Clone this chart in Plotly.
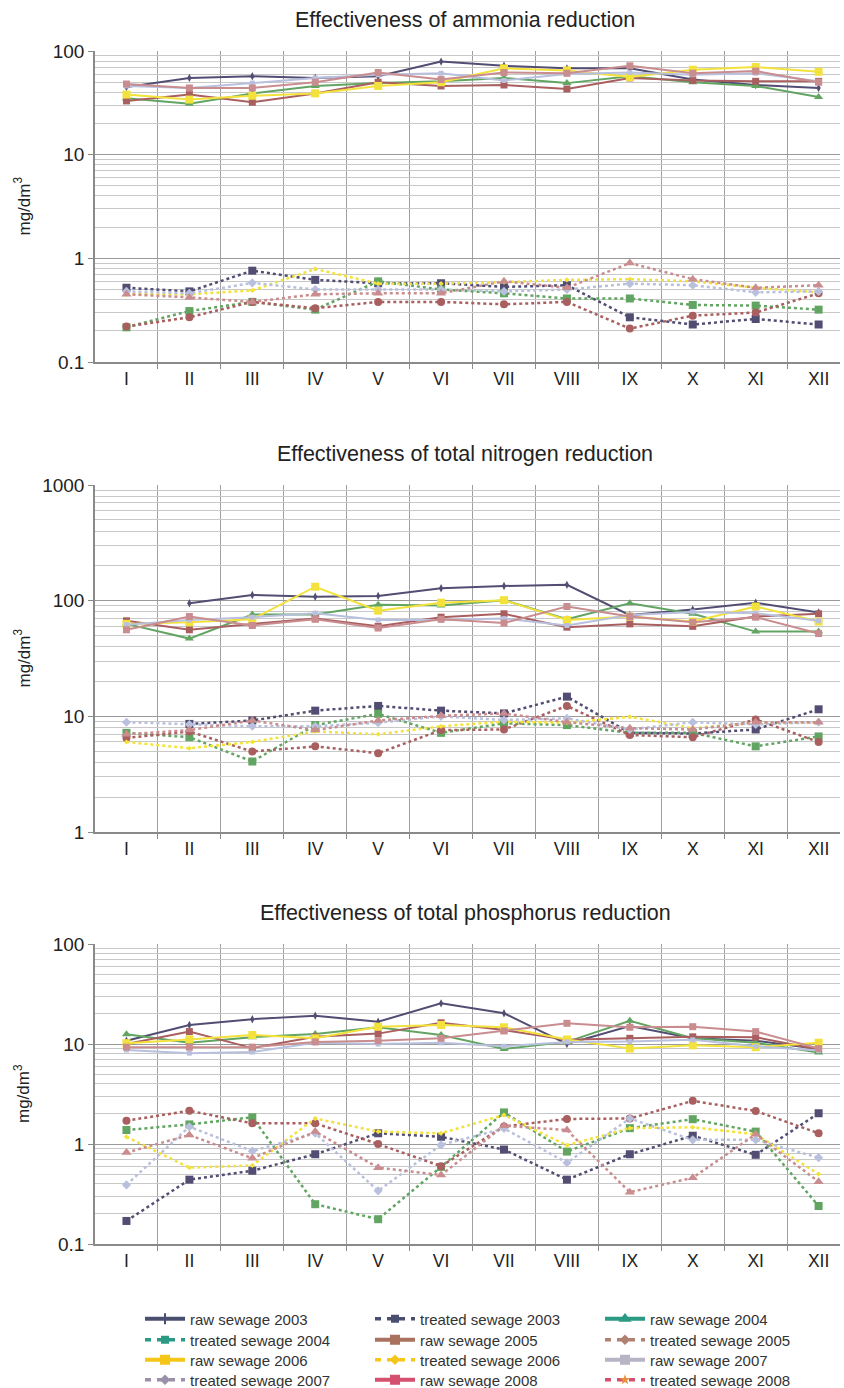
import plotly.graph_objects as go

months = ["I", "II", "III", "IV", "V", "VI", "VII", "VIII", "IX", "X", "XI", "XII"]
years = [2003, 2004, 2005, 2006, 2007, 2008]

# ---------------- Ammonia (mg/dm3) ----------------
amm_raw_2003 = [45, 55, 57, 55, 57, 79, 72, 68, 68, 53, 47, 44]
amm_raw_2004 = [35, 31, 39, 46, 49, 51, 55, 49, 57, 50, 46, 36]
amm_raw_2005 = [33, 38, 32, 39, 50, 46, 47, 43, 55, 52, 51, 51]
amm_raw_2006 = [38, 34, 37, 39, 46, 50, 68, 65, 56, 66, 70, 63]
amm_raw_2007 = [46, 44, 49, 55, 59, 61, 52, 60, 62, 59, 61, 51]
amm_raw_2008 = [48, 44, 44, 50, 62, 53, 62, 61, 72, 61, 64, 50]
amm_tr_2003 = [0.52, 0.48, 0.76, 0.62, 0.575, 0.575, 0.53, 0.55, 0.27, 0.23, 0.26, 0.23]
amm_tr_2004 = [0.216, 0.31, 0.38, 0.32, 0.6, 0.5, 0.46, 0.41, 0.41, 0.355, 0.35, 0.32]
amm_tr_2005 = [0.22, 0.27, 0.38, 0.33, 0.38, 0.38, 0.36, 0.38, 0.21, 0.28, 0.3, 0.46]
amm_tr_2006 = [0.45, 0.45, 0.49, 0.79, 0.57, 0.57, 0.59, 0.62, 0.63, 0.6, 0.52, 0.47]
amm_tr_2007 = [0.48, 0.46, 0.58, 0.5, 0.5, 0.5, 0.48, 0.5, 0.57, 0.55, 0.47, 0.48]
amm_tr_2008 = [0.45, 0.42, 0.38, 0.45, 0.46, 0.46, 0.6, 0.52, 0.9, 0.63, 0.52, 0.55]

# ---------------- Total nitrogen (mg/dm3) ----------------
nit_raw_2003 = [None, 95, 112, 108, 110, 128, 134, 137, 75, 84, 96, 79]
nit_raw_2004 = [63, 47, 76, 76, 92, 91, 101, 69, 95, 77, 54, 54]
nit_raw_2005 = [67, 56, 63, 70, 60, 72, 77, 59, 63, 60, 73, 77]
nit_raw_2006 = [63, 65, 69, 132, 82, 96, 101, 68, 73, 66, 89, 66]
nit_raw_2007 = [62, 68, 72, 78, 68, 68, 70, 61, 75, 80, 78, 67]
nit_raw_2008 = [56, 73, 61, 69, 58, 69, 64, 89, 73, 65, 72, 52]
nit_tr_2003 = [None, 8.6, 9.2, 11.2, 12.3, 11.2, 10.6, 14.8, 7.2, 7.1, 7.7, 11.5]
nit_tr_2004 = [7.2, 6.6, 4.07, 8.4, 10.5, 7.2, 8.7, 8.4, 7.2, 7.2, 5.5, 6.7]
nit_tr_2005 = [6.5, 7.4, 4.96, 5.5, 4.8, 7.6, 7.7, 12.3, 6.9, 6.6, 9.4, 6.0]
nit_tr_2006 = [6.0, 5.3, 6.0, 7.4, 7.0, 8.2, 9.0, 8.8, 9.9, 7.9, 8.8, 8.8]
nit_tr_2007 = [8.9, 8.5, 8.2, 8.2, 8.8, 10.0, 9.3, 9.6, 7.7, 8.9, 8.5, 8.9]
nit_tr_2008 = [7.0, 7.6, 9.2, 7.6, 9.2, 10.1, 10.6, 8.9, 7.9, 7.7, 8.9, 8.9]

# ---------------- Total phosphorus (mg/dm3) ----------------
pho_raw_2003 = [10.8, 15.5, 17.7, 19.2, 16.7, 25.5, 20.3, 10.0, 15.1, 11.4, 10.8, 8.9]
pho_raw_2004 = [12.5, 10.3, 11.7, 12.6, 14.7, 12.3, 8.9, 10.5, 17.1, 11.4, 10.3, 8.2]
pho_raw_2005 = [10.0, 13.3, 9.1, 11.8, 12.7, 16.3, 13.8, 11.0, 11.4, 11.8, 11.7, 8.8]
pho_raw_2006 = [10.2, 11.1, 12.3, 11.4, 14.9, 15.5, 14.7, 11.1, 9.0, 9.7, 9.3, 10.3]
pho_raw_2007 = [8.7, 8.1, 8.3, 10.3, 10.0, 10.3, 9.5, 10.5, 10.6, 11.0, 9.5, 8.6]
pho_raw_2008 = [9.3, 9.3, 9.3, 10.5, 10.8, 11.4, 13.5, 16.1, 14.7, 14.9, 13.3, 9.0]
pho_tr_2003 = [0.17, 0.44, 0.54, 0.79, 1.28, 1.18, 0.88, 0.44, 0.79, 1.21, 0.78, 2.03]
pho_tr_2004 = [1.38, 1.57, 1.85, 0.25, 0.177, 0.59, 2.07, 0.84, 1.44, 1.77, 1.33, 0.24]
pho_tr_2005 = [1.71, 2.15, 1.61, 1.61, 1.0, 0.6, 1.5, 1.78, 1.8, 2.7, 2.14, 1.28]
pho_tr_2006 = [1.18, 0.58, 0.61, 1.8, 1.33, 1.28, 1.95, 0.97, 1.44, 1.47, 1.25, 0.5]
pho_tr_2007 = [0.39, 1.49, 0.85, 1.28, 0.34, 0.98, 1.43, 0.65, 1.8, 1.1, 1.1, 0.73]
pho_tr_2008 = [0.82, 1.23, 0.72, 1.33, 0.58, 0.49, 1.52, 1.38, 0.33, 0.46, 1.25, 0.42]

titles = ["Effectiveness of ammonia reduction",
          "Effectiveness of total nitrogen reduction",
          "Effectiveness of total phosphorus reduction"]

charts = [
    ([amm_raw_2003, amm_raw_2004, amm_raw_2005, amm_raw_2006, amm_raw_2007, amm_raw_2008],
     [amm_tr_2003, amm_tr_2004, amm_tr_2005, amm_tr_2006, amm_tr_2007, amm_tr_2008]),
    ([nit_raw_2003, nit_raw_2004, nit_raw_2005, nit_raw_2006, nit_raw_2007, nit_raw_2008],
     [nit_tr_2003, nit_tr_2004, nit_tr_2005, nit_tr_2006, nit_tr_2007, nit_tr_2008]),
    ([pho_raw_2003, pho_raw_2004, pho_raw_2005, pho_raw_2006, pho_raw_2007, pho_raw_2008],
     [pho_tr_2003, pho_tr_2004, pho_tr_2005, pho_tr_2006, pho_tr_2007, pho_tr_2008]),
]

y_ticks = [[0.1, 1, 10, 100], [1, 10, 100, 1000], [0.1, 1, 10, 100]]
y_ranges = [[-1, 2], [0, 3], [-1, 2]]

# ---- styles ----
plot_colors = ["#524d72", "#62a562", "#a95f5f", "#f3e23c", "#b9c0de", "#c98d8f"]
raw_symbols = ["diamond-tall", "triangle-up", "square", "square", "square", "square"]
raw_sizes = [6, 8, 7, 8, 5, 7]
tr_symbols = ["square", "square", "circle", "diamond", "diamond", "triangle-up"]
tr_sizes = [8, 8, 8, 4, 7, 9]

legend_colors_raw = ["#4b4f6f", "#2a9a84", "#a8725f", "#f5c518", "#b9b3c6", "#d4506e"]
legend_colors_tr = ["#4b4f6f", "#2a9a84", "#b08070", "#f5c518", "#9a90a8", "#d4506e"]
legend_tr_symbols = ["square", "square", "diamond", "diamond", "diamond", "star"]
legend_raw_symbols = ["line-ns", "triangle-up", "square", "square", "square", "square"]

W, H = 844, 1388
ML, MR = 95, 4
plot_w = W - ML - MR
tops = [51, 485, 944]
bottoms = [362, 832, 1244]

fig = go.Figure()
x = list(range(12))

for ci, (raws, trs) in enumerate(charts):
    xa = "x" if ci == 0 else f"x{ci + 1}"
    ya = "y" if ci == 0 else f"y{ci + 1}"
    for i in range(6):
        fig.add_trace(go.Scatter(
            x=x, y=trs[i], xaxis=xa, yaxis=ya, mode="lines+markers",
            line=dict(color=plot_colors[i], width=2.5, dash="3px,3px"),
            marker=dict(symbol=tr_symbols[i], size=tr_sizes[i], color=plot_colors[i]),
            showlegend=False, connectgaps=False, hoverinfo="skip"))
    for i in range(6):
        fig.add_trace(go.Scatter(
            x=x, y=raws[i], xaxis=xa, yaxis=ya, mode="lines+markers",
            line=dict(color=plot_colors[i], width=2),
            marker=dict(symbol=raw_symbols[i], size=raw_sizes[i], color=plot_colors[i]),
            showlegend=False, connectgaps=False, hoverinfo="skip"))

# legend-only entries (colours as in the original legend): one small legend per entry,
# laid out in a 3-column grid
font_family = "Liberation Sans, Arial, sans-serif"
col_x = [140, 370, 600]
row_y = [1319, 1340, 1360, 1380]
legend_layouts = {}
k = 0
for i, yr in enumerate(years):
    for kind in ("raw", "treated"):
        col, row = k % 3, k // 3
        lname = "legend" if k == 0 else f"legend{k + 1}"
        k += 1
        legend_layouts[lname] = dict(
            x=(col_x[col] - ML) / plot_w, xanchor="left",
            y=1 - row_y[row] / H, yanchor="middle",
            itemwidth=40, font=dict(size=15, color="#333333"),
            bgcolor="rgba(0,0,0,0)", borderwidth=0)
        if kind == "raw":
            fig.add_trace(go.Scatter(
                x=[None], y=[None], mode="lines+markers", name=f"raw sewage {yr}",
                legend=lname,
                line=dict(color=legend_colors_raw[i], width=4),
                marker=dict(symbol=legend_raw_symbols[i], size=8, color=legend_colors_raw[i],
                            line=dict(color=legend_colors_raw[i], width=2))))
        else:
            fig.add_trace(go.Scatter(
                x=[None], y=[None], mode="lines+markers", name=f"treated sewage {yr}",
                legend=lname,
                line=dict(color=legend_colors_tr[i], width=3.5, dash="6px,6px"),
                marker=dict(symbol=legend_tr_symbols[i], size=8,
                            color="#e8903a" if i == 5 else legend_colors_tr[i])))

layout = dict(
    width=W, height=H,
    margin=dict(l=ML, r=MR, t=0, b=0, autoexpand=False),
    paper_bgcolor="white", plot_bgcolor="white",
    font=dict(family=font_family, color="#222222"),
    annotations=[], showlegend=True,
)
layout.update(legend_layouts)

minor_x = [k + 0.5 for k in range(11)]
for ci in range(3):
    sfx = "" if ci == 0 else str(ci + 1)
    lo, hi = y_ranges[ci]
    minor_y = [m * 10 ** d for d in range(lo, hi) for m in range(2, 10)]
    layout["xaxis" + sfx] = dict(
        domain=[0, 1], anchor="y" + sfx, range=[-0.5, 11.34],
        tickvals=x, ticktext=months, showgrid=False, zeroline=False,
        showline=True, linecolor="#8a8a8a", linewidth=1.5, ticks="",
        tickfont=dict(size=17.5, color="#222222"), automargin=False,
        minor=dict(tickvals=minor_x, showgrid=True, gridcolor="#a0a0a0", gridwidth=1,
                   ticks="outside", ticklen=5, tickcolor="#8a8a8a"),
    )
    layout["yaxis" + sfx] = dict(
        domain=[1 - bottoms[ci] / H, 1 - tops[ci] / H], anchor="x" + sfx,
        type="log", range=[lo, hi], automargin=False,
        tickvals=y_ticks[ci], ticktext=[str(v) for v in y_ticks[ci]],
        showgrid=True, gridcolor="#9a9a9a", gridwidth=1.2, zeroline=False,
        showline=True, linecolor="#8a8a8a", linewidth=1.5,
        ticks="outside", ticklen=5, tickcolor="#8a8a8a",
        tickfont=dict(size=19, color="#222222"),
        minor=dict(tickvals=minor_y, showgrid=True, gridcolor="#c8c8c8", gridwidth=1, ticks=""),
    )
    layout["annotations"].append(dict(
        text=titles[ci], xref="paper", yref="paper",
        x=(465 - ML) / plot_w, y=1 - (tops[ci] - 31) / H, xanchor="center", yanchor="middle",
        showarrow=False, font=dict(size=21.5, color="#222222")))
    layout["annotations"].append(dict(
        text="mg/dm<sup>3</sup>", xref="paper", yref="paper",
        x=(22 - ML) / plot_w, y=1 - ((tops[ci] + bottoms[ci]) / 2) / H,
        xanchor="center", yanchor="middle", textangle=-90,
        showarrow=False, font=dict(size=17, color="#222222")))

fig.update_layout(**layout)
fig.write_html("out.html", config={"displayModeBar": False},
               post_script="document.body.style.margin='0px';")
